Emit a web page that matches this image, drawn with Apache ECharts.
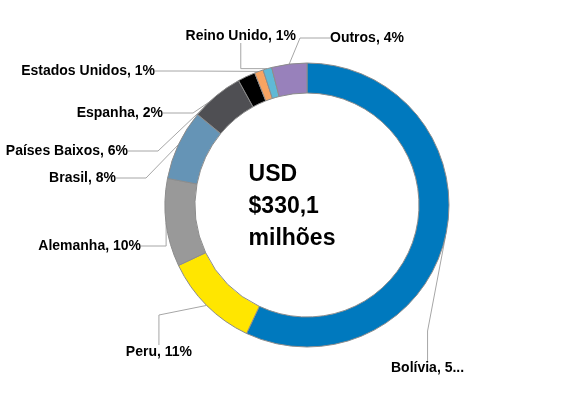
<!DOCTYPE html><html><head><meta charset="utf-8">
<script src="https://cdn.jsdelivr.net/npm/echarts@6/dist/echarts.min.js"></script>
<style>html,body{margin:0;background:#fff}#c{width:584px;height:414px}</style></head><body><div id="c"></div><script>
const categories=['Bolívia','Peru','Alemanha','Brasil','Países Baixos','Espanha','Estados Unidos','Reino Unido','Outros'];
const values=[57,11,10,8,6,2,1,1,4];
const colors=['#0079BE','#FFE600','#999999','#6594B6','#4F4F53','#000000','#F8A462','#5FB9D6','#9881BB'];
const labelPos=[[391,368,'left'],[192,352,'right'],[141,246,'right'],[116,178,'right'],[128,151,'right'],[163,113,'right'],[155,71,'right'],[296,36,'right'],[330,38,'left']];
const chart=echarts.init(document.getElementById('c'));
chart.setOption({
 animation:false,
 graphic:[{type:'text',left:'center',top:'middle',x:0,style:{text:'USD\n$330,1\nmilhões',x:307,y:205,align:'center',verticalAlign:'middle',font:'bold 23px "Liberation Sans"',lineHeight:32,fill:'#000'}}],
 series:[{type:'pie',center:[307,205],radius:[112,142],startAngle:90,clockwise:true,
  itemStyle:{borderColor:'#8c8c8c',borderWidth:1},
  label:{show:true,formatter:'{b}, {c}%',fontFamily:'Liberation Sans',fontWeight:'bold',fontSize:14,color:'#000'},
  labelLine:{show:true,lineStyle:{color:'#a6a6a6',width:1}},
  labelLayout:function(p){const q=labelPos[p.dataIndex];const w=p.labelRect.width;return {x:q[2]==='right'?q[0]-w:q[0],y:q[1]-p.labelRect.height/2,align:'left',verticalAlign:'top'};},
  data:categories.map((n,i)=>({name:n,value:values[i],itemStyle:{color:colors[i]}}))}]
});
</script></body></html>
